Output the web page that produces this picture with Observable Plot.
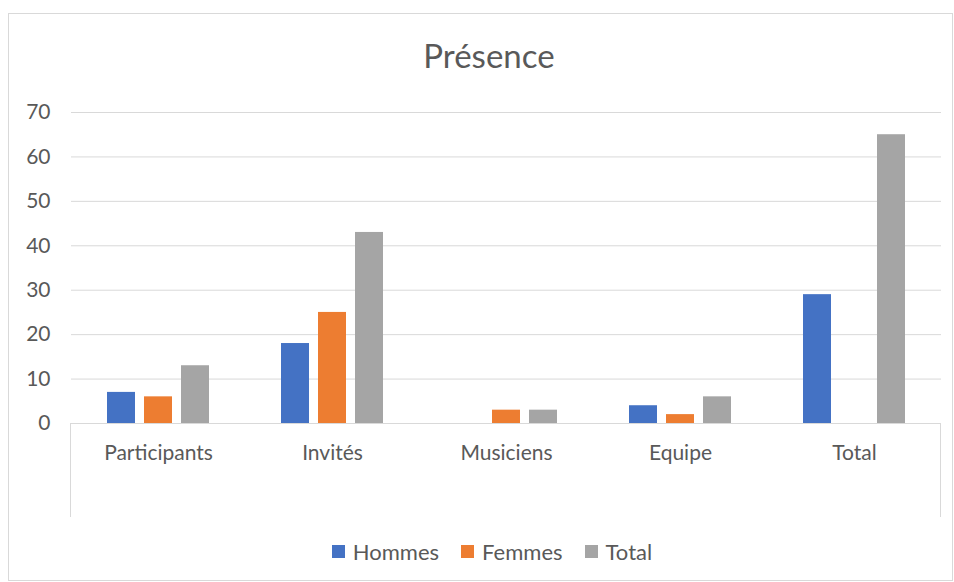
<!DOCTYPE html>
<html>
<head>
<meta charset="utf-8">
<script src="https://cdn.jsdelivr.net/npm/d3@7"></script>
<script src="https://cdn.jsdelivr.net/npm/@observablehq/plot@0.6"></script>
<style>
  html, body { margin: 0; padding: 0; background: #fff; }
  #wrap { position: relative; width: 954px; height: 582px; overflow: hidden; font-family: Lato, sans-serif; color: #595959; }
  #frame { position: absolute; left: 8px; top: 13px; width: 945px; height: 568px; border: 1px solid #d9d9d9; box-sizing: border-box; }
  #title { position: absolute; left: 0; width: 978px; top: 36px; text-align: center; font-size: 33px; line-height: 1.2; }
  #chart { position: absolute; left: 0; top: 90px; }
  #sep { position: absolute; border-left: 1px solid #d9d9d9; border-right: 1px solid #d9d9d9; box-sizing: border-box; }
  #legend { position: absolute; left: 0; top: 535px; width: 1006px; display: flex; justify-content: center; }
  div.leg-swatches { font-family: Lato, sans-serif !important; font-size: 22px !important; color: #595959 !important; margin: 0 !important; }
  div.leg-swatches .leg-swatch > svg { margin-right: 8px !important; }
  div.leg-swatches .leg-swatch { margin-right: 22px !important; }
</style>
</head>
<body>
<div id="wrap">
  <div id="frame"></div>
  <div id="title">Présence</div>
  <div id="chart"></div>
  <div id="sep"></div>
  <div id="legend"></div>
</div>
<script>
const categories = ["Participants", "Invités", "Musiciens", "Equipe", "Total"];
const series = ["Hommes", "Femmes", "Total"];
const hommes = [7, 18, 0, 4, 29];
const femmes = [6, 25, 3, 2, null];
const totals = [13, 43, 3, 6, 65];
const colors = ["#4472C4", "#ED7D31", "#A5A5A5"];
const yTicks = [0, 10, 20, 30, 40, 50, 60, 70];

const values = [hommes, femmes, totals];
const table = [];
categories.forEach((c, i) => {
  series.forEach((s, j) => {
    table.push({cat: c, series: s, value: values[j][i]});
  });
});

const W = 954, H = 440, ML = 71, MR = 13, MT = 22, MB = 107;

const plot = Plot.plot({
  width: W,
  height: H,
  marginLeft: ML,
  marginRight: MR,
  marginTop: MT,
  marginBottom: MB,
  style: {fontFamily: "Lato, sans-serif", fontSize: "21px", color: "#595959", background: "transparent", overflow: "visible"},
  fx: {domain: categories, padding: 0, label: null, tickSize: 0, tickPadding: 22, axis: "bottom"},
  x: {domain: series, paddingInner: 0.237, paddingOuter: 0.908, axis: null},
  y: {domain: [0, 70], ticks: yTicks, label: null, tickSize: 0, tickPadding: 21, grid: false},
  color: {domain: series, range: colors},
  marks: [
    Plot.gridY(yTicks, {stroke: "#d9d9d9", strokeOpacity: 1}),
    Plot.axisY(yTicks, {tickSize: 0, tickPadding: 21, label: null}),
    Plot.barY(table.filter(d => d.value != null), {fx: "cat", x: "series", y: "value", fill: "series"}),
    Plot.ruleY([0], {stroke: "#d9d9d9"})
  ]
});
document.getElementById("chart").appendChild(plot);

const sep = document.getElementById("sep");
sep.style.left = (ML - 1) + "px";
sep.style.width = (W - ML - MR + 1) + "px";
sep.style.top = (90 + H - MB) + "px";
sep.style.height = "94px";

const leg = plot.legend("color", {className: "leg", swatchSize: 13});
document.getElementById("legend").appendChild(leg);
</script>
</body>
</html>
